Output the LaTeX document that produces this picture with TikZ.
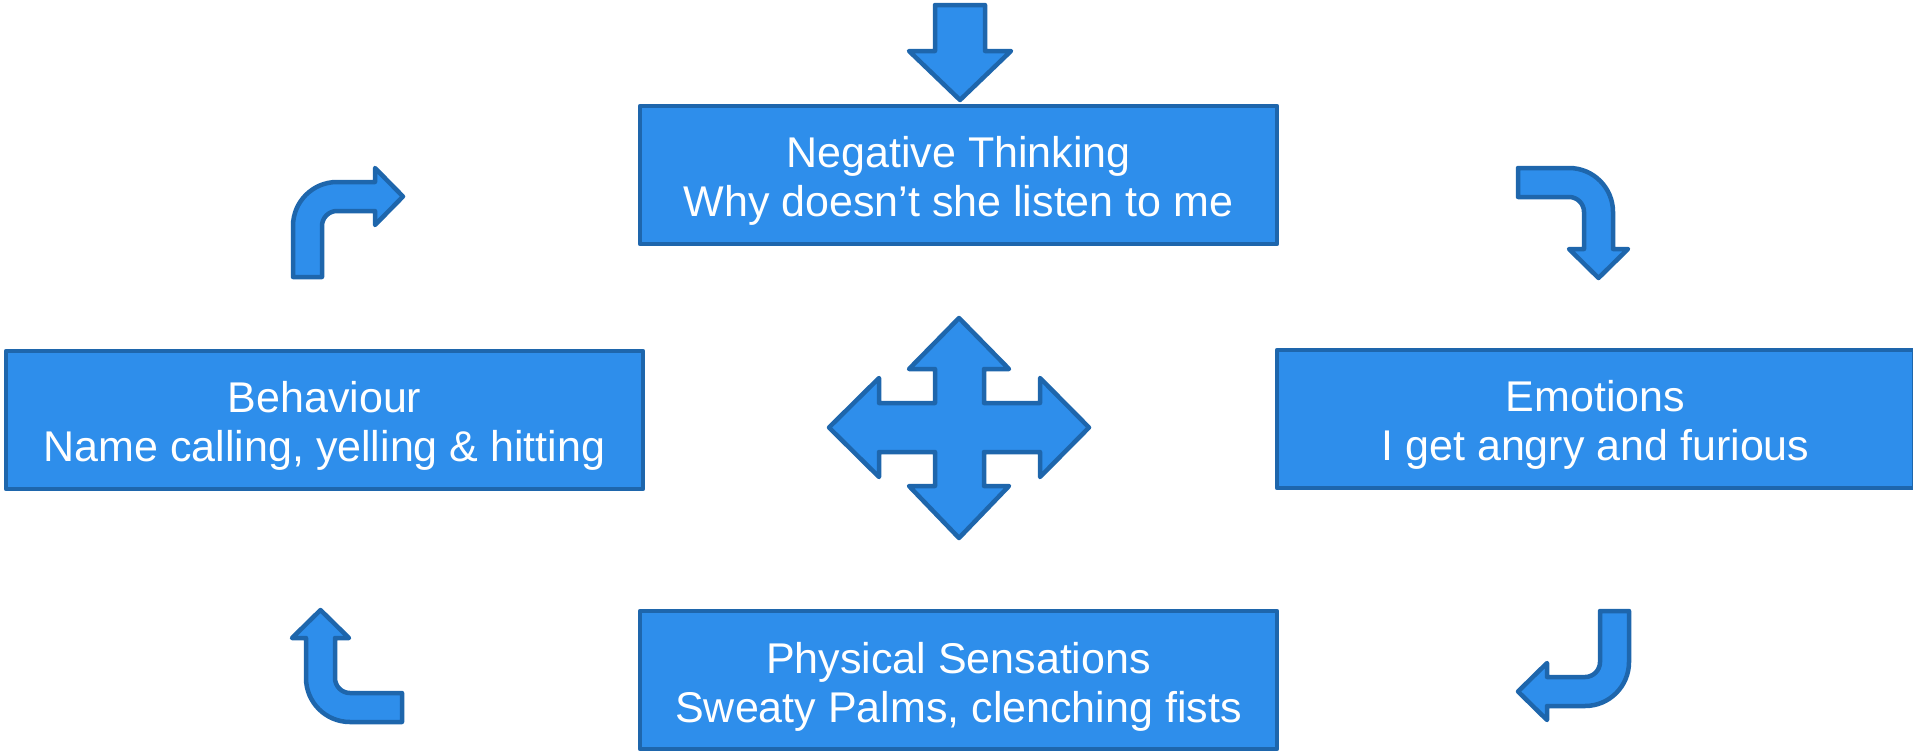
\documentclass[tikz,border=0pt]{standalone}
\usepackage{fontspec}
\setmainfont{Liberation Sans}
\definecolor{boxfill}{RGB}{46,142,235}
\definecolor{boxline}{RGB}{30,102,172}
\begin{document}
\begin{tikzpicture}[x=1pt,y=1pt,
  blk/.style={fill=boxfill,draw=boxline,line width=4.5pt,line join=round},
  panel/.style={blk,rectangle,minimum width=637pt,minimum height=138pt,inner sep=0pt},
  paneltext/.style={text=white,align=center,inner sep=0pt,font=\fontsize{43}{49}\selectfont}]
\useasboundingbox (0,0) rectangle (1913,-750);
% boxes
\node[panel] (neg) at (958.5,-175) {};
\node[panel] (emo) at (1595.5,-419) {};
\node[panel] (phy) at (958.5,-680) {};
\node[panel] (beh) at (324.5,-420) {};
\node[paneltext] (negt) at ([yshift=-6pt]neg.center) {Negative Thinking\\Why doesn’t she listen to me};
\node[paneltext] (emot) at ([yshift=-6pt]emo.center) {Emotions\\I get angry and furious};
\node[paneltext] (phyt) at ([yshift=-7pt]phy.center) {Physical Sensations\\Sweaty Palms, clenching fists};
\node[paneltext] (beht) at ([yshift=-6pt]beh.center) {Behaviour\\Name calling, yelling \& hitting};
% top down arrow
\draw[blk] (935,-5) -- (985,-5) -- (985,-51) -- (1011,-51) -- (960,-100) -- (909,-51) -- (935,-51) -- cycle;
% four-way cross arrow
\draw[blk] (959,-318) -- (1009,-369) -- (984,-369) -- (984,-403) -- (1040,-403) -- (1040,-378)
  -- (1089,-427.5) -- (1040,-477) -- (1040,-452) -- (984,-452) -- (984,-486) -- (1009,-486)
  -- (959,-538) -- (909,-486) -- (935,-486) -- (935,-452) -- (879,-452) -- (879,-477)
  -- (829,-427.5) -- (879,-378) -- (879,-403) -- (935,-403) -- (935,-369) -- (909,-369) -- cycle;
% top-left bent arrow (up then right)
\draw[blk] (322,-277) -- (293,-277) -- (293,-226) arc[start angle=180,end angle=90,radius=44]
  -- (375,-182) -- (375,-168) -- (403,-196.5) -- (375,-225) -- (375,-211)
  -- (337,-211) arc[start angle=90,end angle=180,radius=15] -- cycle;
% top-right bent arrow (right then down)
\draw[blk] (1518,-168) -- (1569,-168) arc[start angle=90,end angle=0,radius=44]
  -- (1613,-249) -- (1628,-249) -- (1598.5,-278) -- (1569,-249) -- (1584,-249)
  -- (1584,-212) arc[start angle=0,end angle=90,radius=15] -- (1518,-197) -- cycle;
% bottom-right bent arrow (down then left)
\draw[blk] (1600,-611) -- (1629,-611) -- (1629,-662) arc[start angle=0,end angle=-90,radius=44]
  -- (1547,-706) -- (1547,-720) -- (1518,-691.5) -- (1547,-663) -- (1547,-677)
  -- (1585,-677) arc[start angle=-90,end angle=0,radius=15] -- cycle;
% bottom-left bent arrow (left then up)
\draw[blk] (402,-693) -- (402,-722) -- (350,-722) arc[start angle=-90,end angle=-180,radius=44]
  -- (306,-638) -- (292,-638) -- (320.5,-610) -- (349,-638) -- (335,-638)
  -- (335,-678) arc[start angle=180,end angle=270,radius=15] -- cycle;
\end{tikzpicture}
\end{document}
